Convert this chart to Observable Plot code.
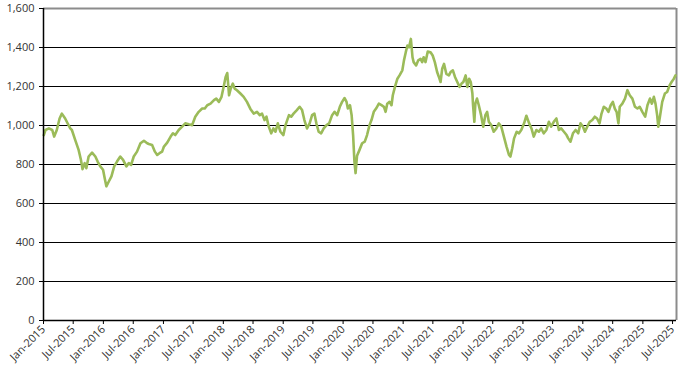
<!DOCTYPE html>
<html><head><meta charset="utf-8">
<script src="https://cdn.jsdelivr.net/npm/d3@7"></script>
<script src="https://cdn.jsdelivr.net/npm/@observablehq/plot@0.6"></script>
<style>html,body{margin:0;padding:0;background:#fff} svg{display:block}</style>
</head><body><div id="chart"></div>
<script>
const dates = [
"2015-01-03","2015-01-13","2015-02-03","2015-02-23","2015-03-07","2015-03-23","2015-04-09","2015-04-23","2015-05-13","2015-05-23",
"2015-06-13","2015-06-23","2015-07-13","2015-08-03","2015-08-17","2015-08-27","2015-09-09","2015-09-19","2015-10-03","2015-10-24",
"2015-11-13","2015-11-27","2015-12-13","2015-12-30","2016-01-09","2016-01-19","2016-02-03","2016-02-19","2016-03-07","2016-03-24",
"2016-04-13","2016-04-30","2016-05-20","2016-06-04","2016-06-18","2016-07-04","2016-07-24","2016-08-14","2016-09-04","2016-09-24",
"2016-10-04","2016-10-24","2016-11-10","2016-11-24","2016-12-08","2016-12-24","2017-01-04","2017-01-24","2017-02-14","2017-02-28",
"2017-03-14","2017-04-04","2017-04-25","2017-05-14","2017-06-04","2017-06-25","2017-07-14","2017-08-04","2017-08-25","2017-09-10",
"2017-09-25","2017-10-15","2017-11-05","2017-11-19","2017-12-05","2017-12-21","2018-01-05","2018-01-15","2018-01-25","2018-02-05",
"2018-02-15","2018-02-28","2018-03-11","2018-03-25","2018-04-15","2018-05-05","2018-05-25","2018-06-15","2018-07-05","2018-07-25",
"2018-08-11","2018-08-25","2018-09-09","2018-09-21","2018-10-05","2018-10-20","2018-11-02","2018-11-15","2018-11-29","2018-12-15",
"2019-01-02","2019-01-15","2019-02-05","2019-02-19","2019-03-05","2019-03-25","2019-04-11","2019-04-26","2019-05-10","2019-05-26",
"2019-06-11","2019-06-26","2019-07-10","2019-07-22","2019-08-05","2019-08-20","2019-09-05","2019-09-22","2019-10-08","2019-10-26",
"2019-11-10","2019-11-26","2019-12-12","2019-12-26","2020-01-10","2020-01-22","2020-01-30","2020-02-12","2020-02-22","2020-03-02",
"2020-03-10","2020-03-17","2020-03-26","2020-04-10","2020-04-26","2020-05-12","2020-05-26","2020-06-10","2020-06-22","2020-07-06",
"2020-07-20","2020-08-06","2020-08-22","2020-09-06","2020-09-16","2020-09-26","2020-10-10","2020-10-22","2020-10-30","2020-11-12",
"2020-11-27","2020-12-10","2020-12-27","2021-01-06","2021-01-17","2021-01-27","2021-02-06","2021-02-17","2021-02-27","2021-03-06",
"2021-03-21","2021-04-03","2021-04-17","2021-04-27","2021-05-06","2021-05-17","2021-05-31","2021-06-17","2021-06-30","2021-07-13",
"2021-07-27","2021-08-07","2021-08-17","2021-08-27","2021-09-07","2021-09-21","2021-10-07","2021-10-17","2021-10-31","2021-11-13",
"2021-11-27","2021-12-11","2021-12-23","2022-01-03","2022-01-17","2022-01-27","2022-02-07","2022-02-17","2022-02-27","2022-03-03",
"2022-03-11","2022-03-17","2022-03-27","2022-04-07","2022-04-21","2022-05-04","2022-05-17","2022-05-28","2022-06-07","2022-06-22",
"2022-07-07","2022-07-23","2022-08-07","2022-08-22","2022-09-07","2022-09-23","2022-10-08","2022-10-17","2022-10-28","2022-11-08",
"2022-11-24","2022-12-08","2022-12-22","2023-01-08","2023-01-22","2023-02-08","2023-02-22","2023-03-08","2023-03-24","2023-04-08",
"2023-04-22","2023-05-08","2023-05-24","2023-06-08","2023-06-22","2023-07-08","2023-07-24","2023-08-08","2023-08-22","2023-09-08",
"2023-09-24","2023-10-04","2023-10-18","2023-11-02","2023-11-18","2023-12-04","2023-12-18","2024-01-02","2024-01-14","2024-01-28",
"2024-02-12","2024-02-28","2024-03-14","2024-03-28","2024-04-12","2024-04-24","2024-05-08","2024-05-23","2024-06-05","2024-06-19",
"2024-07-02","2024-07-14","2024-07-25","2024-08-05","2024-08-13","2024-08-29","2024-09-14","2024-09-29","2024-10-13","2024-10-29",
"2024-11-14","2024-11-29","2024-12-13","2024-12-29","2025-01-15","2025-01-29","2025-02-13","2025-02-25","2025-03-09","2025-03-19",
"2025-03-29","2025-04-05","2025-04-15","2025-04-29","2025-05-15","2025-05-29","2025-06-13","2025-06-25","2025-07-09","2025-07-19"
];
const values = [
951,977,985,977,943,977,1036,1061,1036,1019,
985,977,926,875,824,776,807,781,841,861,
841,815,790,773,730,688,713,739,790,815,
841,824,790,807,798,841,866,909,922,909,
905,900,866,849,858,866,892,912,943,960,
951,977,994,1011,1006,1002,1045,1070,1087,1087,
1104,1112,1130,1138,1121,1147,1206,1249,1269,1155,
1189,1215,1189,1181,1164,1147,1121,1085,1061,1070,
1053,1061,1028,1045,994,960,985,968,1011,968,
951,1002,1053,1045,1061,1079,1096,1079,1028,985,
1011,1053,1061,1011,968,960,985,1002,1011,1053,
1070,1053,1096,1121,1141,1121,1087,1104,1053,951,
815,756,845,875,909,917,951,1002,1028,1070,
1087,1112,1104,1096,1070,1112,1121,1104,1155,1198,
1240,1257,1283,1334,1376,1410,1401,1444,1350,1325,
1308,1334,1342,1325,1350,1325,1379,1376,1359,1325,
1274,1249,1223,1291,1316,1265,1257,1274,1283,1249,
1223,1198,1215,1223,1257,1198,1240,1223,1164,1104,
1019,1112,1138,1104,1053,994,1053,1070,1019,1002,
968,985,1011,994,943,892,849,841,883,934,
968,960,977,1011,1050,1011,985,943,977,968,
985,960,977,1019,994,1019,1036,977,985,968,
951,934,917,960,977,960,1011,994,968,994,
1019,1028,1045,1036,1011,1061,1096,1087,1070,1104,
1121,1087,1070,1011,1096,1112,1138,1181,1155,1138,
1096,1087,1096,1070,1045,1104,1138,1112,1147,1112,
1053,994,1045,1121,1164,1172,1206,1223,1240,1257
];
const yTicks = [0, 200, 400, 600, 800, 1000, 1200, 1400, 1600];
const xTicks = [
"2015-01-01","2015-07-01","2016-01-01","2016-07-01","2017-01-01","2017-07-01","2018-01-01","2018-07-01",
"2019-01-01","2019-07-01","2020-01-01","2020-07-01","2021-01-01","2021-07-01","2022-01-01","2022-07-01",
"2023-01-01","2023-07-01","2024-01-01","2024-07-01","2025-01-01","2025-07-01"
];
const xStart = "2015-01-01";
const xEnd = "2025-07-25";

const data = dates.map((d, i) => ({date: new Date(d), value: values[i]}));
const x0 = new Date(xStart), x1 = new Date(xEnd);

const chart = Plot.plot({
  width: 695,
  height: 381,
  marginLeft: 43,
  marginRight: 19,
  marginTop: 8,
  marginBottom: 61,
  style: {fontFamily: "'Open Sans', sans-serif", fontSize: "11px", background: "#fff", color: "#333"},
  x: {type: "utc", domain: [x0, x1]},
  y: {domain: [0, 1600]},
  marks: [
    Plot.ruleY(yTicks.filter(v => v > 0 && v < 1600), {stroke: "#000", strokeWidth: 1}),
    Plot.ruleY([1600], {stroke: "#8c8c8c", strokeWidth: 2}),
    Plot.ruleX([x1], {stroke: "#8c8c8c", strokeWidth: 2}),
    Plot.lineY(data, {x: "date", y: "value", stroke: "#9bbb59", strokeWidth: 2.6, strokeLinejoin: "round"}),
    Plot.ruleX([x0], {stroke: "#000", strokeWidth: 1.5}),
    Plot.ruleY([0], {stroke: "#000", strokeWidth: 1.5}),
    Plot.axisY({ticks: yTicks, tickFormat: d3.format(","), tickSize: 4, tickPadding: 5, label: null, stroke: "#000", fill: "#333"}),
    Plot.axisX({ticks: xTicks.map(d => new Date(d)), tickFormat: d3.utcFormat("%b-%Y"), tickSize: 4, tickPadding: 3, tickRotate: -45, textAnchor: "end", label: null, stroke: "#000", fill: "#333"})
  ]
});
document.getElementById("chart").appendChild(chart);
</script>
</body></html>
